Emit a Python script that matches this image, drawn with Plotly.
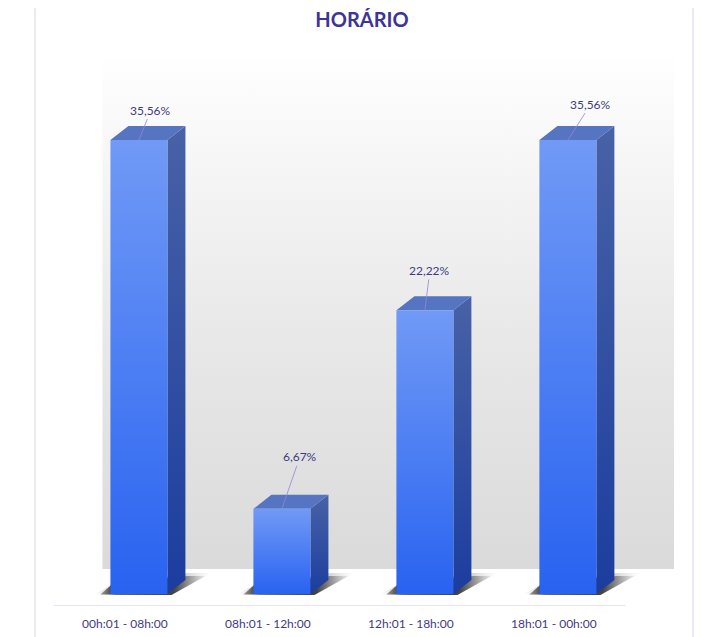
import plotly.graph_objects as go

# chart values
categories = ["00h:01 - 08h:00", "08h:01 - 12h:00", "12h:01 - 18h:00", "18h:01 - 00h:00"]
values = [35.56, 6.67, 22.22, 35.56]
labels = ["35,56%", "6,67%", "22,22%", "35,56%"]

# label offsets (px) for the leader lines
label_ax = [12, 18, 5, 23]
label_ay = [-30, -52, -40, -36]

# the page puts the plot 8px in from the corner (body margin)
OFF = 8
W, H = 711 - OFF, 637 - OFF
M_L, M_R, M_T = 52 - OFF, 37, 60 - OFF
M_B = H - (606 - OFF)
X_RANGE = [-0.51, 3.84]
Y_RANGE = [0, 42.77]
PLOT_W = W - M_L - M_R

# pixel -> data unit factors, used for the fake 3D depth
px_x = (X_RANGE[1] - X_RANGE[0]) / PLOT_W
px_y = (Y_RANGE[1] - Y_RANGE[0]) / (H - M_T - M_B)

bar_shift_x = 14 * px_x
bar_shift_y = 12 * px_y
half_w = 28.5 * px_x
depth_x = 18 * px_x
depth_y = 14 * px_y
wall_dx = 49 * px_x
wall_dy = 37 * px_y

fig = go.Figure()

# back wall with gray gradient
wx0, wx1 = -0.5 + wall_dx, 3.5 + wall_dx
fig.add_trace(go.Scatter(
    x=[wx0, wx1, wx1, wx0, wx0],
    y=[wall_dy, wall_dy, Y_RANGE[1], Y_RANGE[1], wall_dy],
    mode="lines", line=dict(width=0), fill="toself",
    fillgradient=dict(type="vertical",
                      colorscale=[[0, "#dadada"], [0.45, "#e8e8e8"], [1, "#fefefe"]]),
    hoverinfo="skip", showlegend=False))


def shadow(x0, x1, y0, grow, colors):
    sx = [x0 - (10 + grow) * px_x, x0 + 2 * px_x, x1 + 20 * px_x,
          x1 + (38 + grow) * px_x, x1 + 4 * px_x, x0 - (10 + grow) * px_x]
    sy = [y0 - 0.5 * px_y, y0 + 10 * px_y, y0 + (18 + grow / 2) * px_y,
          y0 + (18 + grow / 2) * px_y, y0 - 1 * px_y, y0 - 0.5 * px_y]
    fig.add_trace(go.Scatter(
        x=sx, y=sy, mode="lines", line=dict(width=0), fill="toself",
        fillgradient=dict(type="horizontal", colorscale=colors),
        hoverinfo="skip", showlegend=False))


for i, v in enumerate(values):
    cx = i + bar_shift_x
    x0, x1 = cx - half_w, cx + half_w
    y0 = bar_shift_y
    y1 = y0 + v

    # soft shadow on the floor
    shadow(x0, x1, y0, 6, [[0, "rgba(120,120,120,0.0)"], [0.2, "rgba(80,80,80,0.35)"],
                            [0.75, "rgba(80,80,80,0.3)"], [1, "rgba(150,150,150,0.0)"]])
    shadow(x0, x1, y0, 0, [[0, "rgba(70,70,70,0.5)"], [0.15, "rgba(30,30,30,0.95)"],
                            [0.7, "rgba(45,45,45,0.85)"], [1, "rgba(120,120,120,0.1)"]])

    # side face
    fig.add_trace(go.Scatter(
        x=[x1, x1 + depth_x, x1 + depth_x, x1, x1],
        y=[y0, y0 + depth_y, y1 + depth_y, y1, y0],
        mode="lines", line=dict(width=0), fill="toself",
        fillgradient=dict(type="vertical", colorscale=[[0, "#1c3d9f"], [1, "#4862a6"]]),
        hoverinfo="skip", showlegend=False))

    # top face
    fig.add_trace(go.Scatter(
        x=[x0, x1, x1 + depth_x, x0 + depth_x, x0],
        y=[y1, y1, y1 + depth_y, y1 + depth_y, y1],
        mode="lines", line=dict(width=0), fill="toself", fillcolor="#5575c2",
        hoverinfo="skip", showlegend=False))

    # front face
    fig.add_trace(go.Scatter(
        x=[x0, x1, x1, x0, x0],
        y=[y0, y0, y1, y1, y0],
        mode="lines", line=dict(width=0), fill="toself",
        fillgradient=dict(type="vertical", colorscale=[[0, "#2862f0"], [1, "#719af6"]]),
        hoverinfo="skip", showlegend=False))

    fig.add_annotation(
        x=cx, y=y1, text=labels[i], showarrow=True, arrowhead=0,
        arrowwidth=0.8, arrowcolor="#9088d4", ax=label_ax[i], ay=label_ay[i],
        font=dict(family="Lato", size=12, color="#3f3b7e"))

# front edge of the floor
fig.add_shape(type="line", xref="x", yref="y", x0=-0.5, x1=3.5, y0=0, y1=0,
              line=dict(color="#c9c9e6", width=1))

# chart outline (left / right), given in window pixels
for xpx in [35, 693]:
    xp = (xpx - OFF - M_L) / PLOT_W
    fig.add_shape(type="line", xref="paper", yref="paper", x0=xp, x1=xp, y0=-0.2, y1=1.3,
                  line=dict(color="#d6d6f0", width=1))

fig.update_layout(
    width=W, height=H,
    margin=dict(l=M_L, r=M_R, t=M_T, b=M_B),
    paper_bgcolor="white", plot_bgcolor="white",
    title=dict(text="<b>HORÁRIO</b>", x=(362 - OFF) / W, xanchor="center",
               y=1 - (20 - OFF) / H, yanchor="middle", automargin=False,
               font=dict(family="Lato", size=20, color="#3c3596")),
    xaxis=dict(range=X_RANGE, tickvals=list(range(len(categories))), ticktext=categories,
               showgrid=False, zeroline=False, showline=False, ticks="",
               ticklabelstandoff=9, automargin=False,
               tickfont=dict(family="Lato", size=12, color="#3f3a85"), fixedrange=True),
    yaxis=dict(range=Y_RANGE, visible=False, showgrid=False, zeroline=False,
               automargin=False, fixedrange=True),
)

fig.write_html("out.html")
